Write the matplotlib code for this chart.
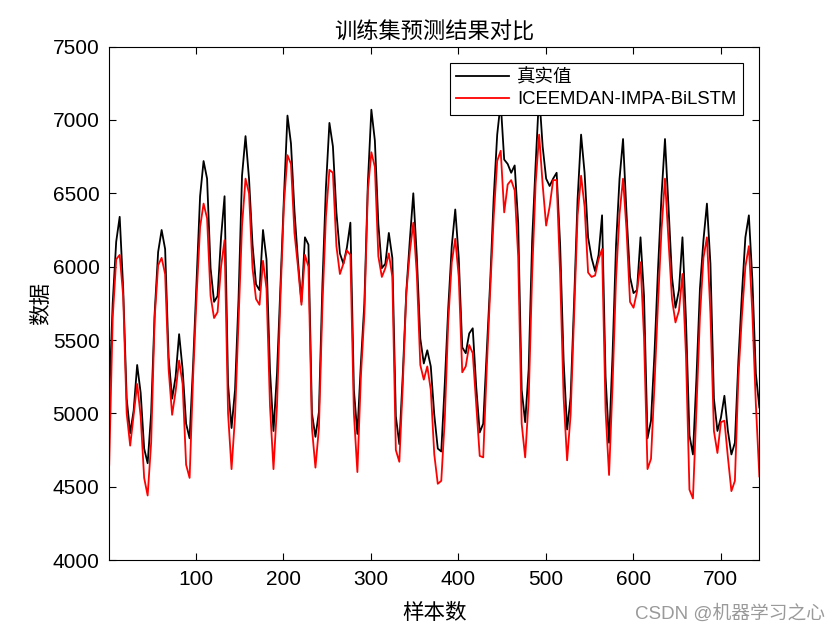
import numpy as np
import matplotlib
matplotlib.use("Agg")
import matplotlib.pyplot as plt

plt.rcParams['font.family'] = ['Liberation Sans', 'Noto Sans CJK SC']

# readings every ~4 samples across the 744-sample training set
n_samples = 744
true_vals = [
    5100, 5750, 6170, 6340, 5850, 5100, 4865, 5020, 5330, 5140,
    4760, 4660, 5000, 5680, 6100, 6250, 6120, 5380, 5100, 5250,
    5540, 5300, 4930, 4830, 5330, 5900, 6480, 6720, 6600, 5990,
    5760, 5800, 6200, 6480, 5200, 4900, 5160, 5780, 6620, 6890,
    6600, 6150, 5880, 5840, 6250, 6050, 5290, 4880, 5270, 5880,
    6480, 7030, 6840, 6380, 6040, 5760, 6200, 6150, 5000, 4840,
    5010, 5880, 6540, 6980, 6820, 6370, 6090, 6020, 6130, 6300,
    5160, 4860, 5340, 5750, 6570, 7070, 6860, 6290, 5990, 6020,
    6230, 6060, 4980, 4790, 5270, 5830, 6180, 6500, 6070, 5510,
    5340, 5430, 5320, 4990, 4760, 4740, 5200, 5720, 6140, 6390,
    6060, 5450, 5410, 5545, 5580, 5180, 4870, 4930, 5410, 5900,
    6470, 6900, 7120, 6730, 6700, 6640, 6690, 6300, 5160, 4940,
    5300, 6180, 6700, 7180, 6820, 6600, 6550, 6600, 6640, 6150,
    5360, 4890, 5110, 5760, 6460, 6900, 6640, 6200, 6060, 5970,
    6080, 6350, 5250, 4800, 5400, 6150, 6600, 6870, 6360, 5930,
    5820, 5840, 6200, 5800, 4830, 4950, 5410, 5980, 6480, 6870,
    6410, 5930, 5720, 5840, 6200, 5640, 4850, 4720, 5240, 5850,
    6180, 6430, 6020, 5100, 4880, 4970, 5120, 4880, 4720, 4800,
    5360, 5810, 6200, 6350, 5910, 5270, 5040,
]
pred_vals = [
    4650, 5650, 6050, 6080, 5800, 5000, 4780, 4990, 5200, 4980,
    4560, 4440, 4800, 5650, 6010, 6060, 5950, 5300, 4990, 5150,
    5360, 5200, 4650, 4560, 5250, 5800, 6270, 6430, 6330, 5800,
    5650, 5690, 6000, 6180, 5000, 4620, 4980, 5620, 6280, 6600,
    6500, 5990, 5780, 5740, 6040, 5850, 5050, 4620, 5050, 5800,
    6430, 6760, 6700, 6230, 6000, 5740, 6080, 6000, 4900, 4630,
    4900, 5740, 6340, 6660, 6640, 6140, 5950, 6020, 6110, 6080,
    5000, 4600, 5250, 5680, 6520, 6780, 6680, 6070, 5930, 5990,
    6090, 5930, 4750, 4670, 5200, 5820, 6100, 6300, 5950, 5330,
    5230, 5320, 5160, 4720, 4520, 4540, 4960, 5630, 6030, 6190,
    5930, 5280, 5320, 5466, 5410, 5060, 4710, 4700, 5300, 5840,
    6340, 6720, 6790, 6370, 6560, 6590, 6520, 6070, 4930, 4700,
    5090, 5950, 6570, 6900, 6560, 6280, 6410, 6590, 6590, 5950,
    5110, 4680, 4990, 5670, 6350, 6620, 6410, 5960, 5930, 5940,
    6050, 6120, 5020, 4580, 5190, 5920, 6360, 6600, 6250, 5760,
    5720, 5830, 6030, 5520, 4620, 4690, 5200, 5750, 6250, 6600,
    6180, 5780, 5620, 5700, 5950, 5400, 4480, 4420, 5030, 5660,
    6060, 6200, 5680, 4880, 4730, 4940, 4950, 4700, 4470, 4540,
    5250, 5660, 6000, 6140, 5680, 5060, 4570,
]
x_ticks = [100, 200, 300, 400, 500, 600, 700]
y_ticks = [4000, 4500, 5000, 5500, 6000, 6500, 7000, 7500]

idx = np.linspace(1, n_samples, len(true_vals))

fig = plt.figure(figsize=(8.4, 6.3), dpi=100)
ax = fig.add_axes([0.130, 0.111, 0.774, 0.815])
ax.plot(idx, true_vals, color='black', linewidth=1.3, label='真实值')
ax.plot(idx, pred_vals, color='red', linewidth=1.3, label='ICEEMDAN-IMPA-BiLSTM')

ax.set_xlim(1, n_samples)
ax.set_ylim(4000, 7500)
ax.set_xticks(x_ticks)
ax.set_yticks(y_ticks)
ax.tick_params(direction='in', top=True, right=True, length=5, labelsize=15, width=0.8, pad=7)
for s in ax.spines.values():
    s.set_linewidth(0.8)

ax.set_title('训练集预测结果对比', fontsize=16, pad=6)
ax.set_xlabel('样本数', fontsize=15.5, labelpad=10)
ax.set_ylabel('数据', fontsize=15.5, labelpad=0)

leg = ax.legend(loc='upper right', bbox_to_anchor=(0.975, 0.969), fontsize=13.3,
                frameon=True, fancybox=False, framealpha=1, edgecolor='black',
                handlelength=2.85, handletextpad=0.45, borderpad=0.35,
                labelspacing=0.25, borderaxespad=0)
leg.get_frame().set_linewidth(0.8)

fig.text(0.982, 0.012, 'CSDN @机器学习之心', ha='right', va='bottom', fontsize=13.5, color='#9a9a9a')

fig.savefig('out.png', dpi=100)
